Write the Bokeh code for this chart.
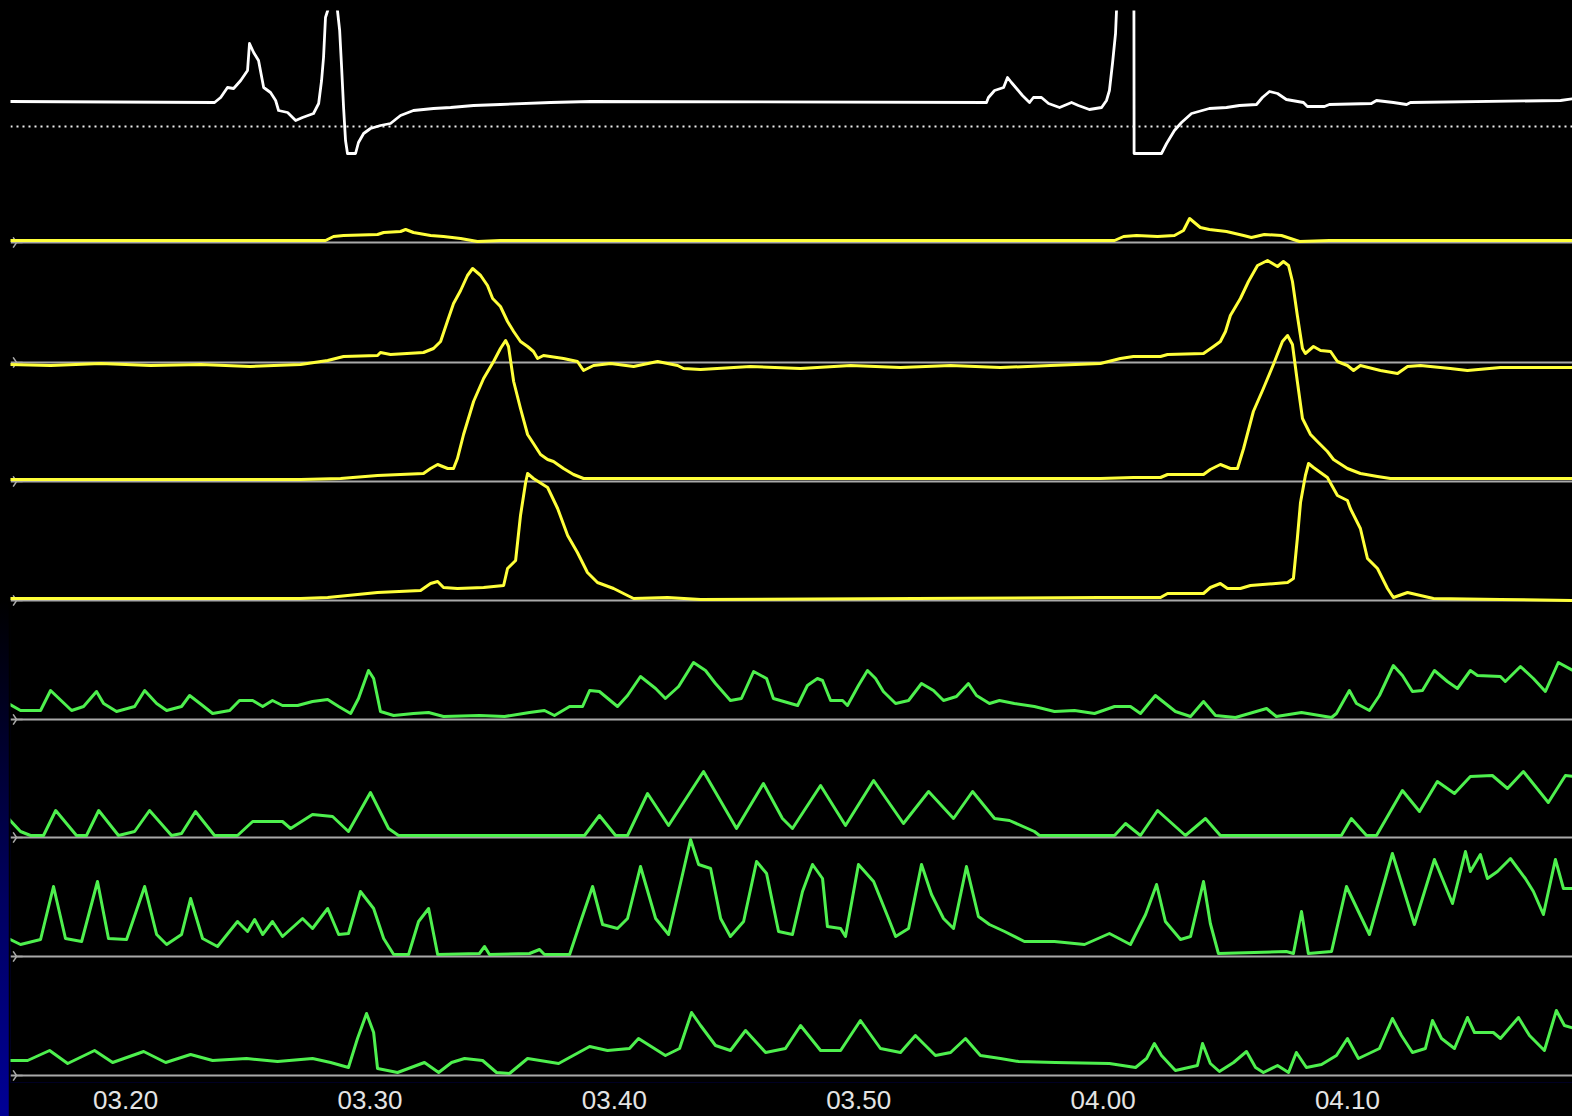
import math
from bokeh.plotting import figure
from bokeh.models import Range1d, FixedTicker, ColumnDataSource
from bokeh.embed import file_html
from bokeh.resources import INLINE

# ---------------- data ----------------
# time: minutes after 03:00 ; values: pressure above each channel's zero line
TICK_MINUTES = [20, 30, 40, 50, 60, 70]
TICK_LABELS = ["03.20", "03.30", "03.40", "03.50", "04.00", "04.10"]

WHITE_T = [15.2, 23.64, 23.89, 24.17, 24.42, 24.71, 24.99, 25.07, 25.24, 25.44, 25.65, 25.93, 26.14, 26.26, 26.63,
           26.96, 27.24, 27.69, 27.90, 28.02, 28.10, 28.18, 28.27, 28.47, 28.67, 28.76, 28.84, 28.92, 29.00, 29.08,
           29.41, 29.53, 29.74, 30.02, 30.43, 30.84, 31.25, 31.78, 32.60, 33.30, 34.24, 35.34, 37.39, 39.03, 55.23,
           55.31, 55.56, 55.93, 56.09, 56.25, 56.46, 56.70, 56.99, 57.15, 57.48, 57.77, 58.22, 58.71, 58.99, 59.44,
           59.94, 60.14, 60.26, 60.39, 60.51, 60.55, 60.92, 61.26, 61.27, 62.39, 62.60, 62.92, 63.21, 63.62, 64.35,
           65.05, 65.58, 66.28, 66.52, 66.81, 67.14, 67.50, 68.20, 68.36, 69.06, 69.26, 70.98, 71.19, 71.88, 72.42,
           72.58, 78.72, 79.3]
WHITE_V = [25, 24, 29, 39, 38, 46, 56, 83, 74, 66, 39, 34, 26, 16, 14,
           6, 9, 13, 23, 46, 69, 109, 116, 170, 116, 96, 59, 19, -14, -27,
           -27, -16, -7, -2, 1, 3, 11, 16, 18, 19, 21, 22, 24, 25, 24,
           29, 36, 39, 49, 44, 38, 31, 24, 29, 29, 23, 19, 24, 21, 17,
           19, 26, 36, 64, 93, 116, 170, 170, -27, -27, -17, -4, 4, 13, 18,
           19, 21, 22, 29, 35, 33, 27, 24, 20, 20, 22, 23, 26, 24, 22,
           24, 26, 28]

Y1_T = [15.2, 28.18, 28.51, 28.92, 30.31, 30.56, 31.25, 31.46, 31.78, 32.48, 33.01, 33.71, 34.40, 35.34, 60.47,
        60.84, 61.37, 62.23, 62.92, 63.29, 63.54, 63.98, 64.35, 65.05, 65.75, 66.07, 66.60, 67.30, 68.04, 69.26, 79.3]
Y1_V = [2, 2, 6, 7, 8, 10, 11, 13, 10, 7, 6, 4, 1, 2, 2,
        6, 7, 6, 7, 12, 24, 15, 13, 11, 7, 5, 8, 7, 1, 2, 2]

Y2_T = [15.2, 16.93, 18.98, 21.02, 23.07, 25.11, 27.16, 28.27, 28.92, 30.31, 30.43, 30.84, 32.19, 32.60, 32.89,
        33.18, 33.42, 33.71, 33.99, 34.20, 34.53, 34.81, 35.02, 35.34, 35.63, 35.88, 36.16, 36.45, 36.69, 36.86,
        37.10, 37.92, 38.49, 38.74, 39.15, 39.85, 40.79, 41.77, 42.59, 42.83, 43.53, 45.57, 47.62, 49.67, 51.71,
        53.76, 55.80, 57.85, 59.89, 60.71, 61.24, 62.35, 62.64, 64.11, 64.52, 64.80, 65.01, 65.21, 65.62, 65.95,
        66.32, 66.73, 67.14, 67.38, 67.59, 67.75, 67.95, 68.16, 68.28, 68.61, 68.90, 69.31, 69.59, 70.00, 70.25,
        70.53, 71.35, 72.05, 72.46, 72.99, 74.21, 74.91, 76.26, 79.3]
Y2_V = [-2, -3, -1, -3, -2, -4, -2, 2, 6, 7, 10, 8, 10, 14, 21,
        42, 59, 72, 87, 94, 87, 77, 64, 56, 41, 31, 21, 16, 11, 4,
        7, 4, 1, -8, -3, -1, -4, 1, -3, -6, -7, -4, -6, -3, -5,
        -3, -5, -3, -1, 4, 6, 6, 8, 9, 16, 21, 31, 47, 64, 81,
        97, 102, 96, 101, 97, 81, 47, 14, 9, 16, 12, 11, 1, -3, -8,
        -3, -8, -11, -4, -3, -6, -8, -5, -5]

Y3_T = [15.2, 27.16, 28.80, 30.31, 32.19, 32.48, 32.77, 33.18, 33.42, 33.58, 33.83, 34.24, 34.65, 35.06, 35.34,
        35.55, 35.67, 35.88, 36.16, 36.45, 36.69, 36.98, 37.27, 37.51, 37.92, 38.33, 38.74, 39.44, 59.89, 61.24,
        62.35, 62.64, 64.11, 64.39, 64.80, 65.21, 65.50, 65.75, 66.15, 66.56, 66.97, 67.34, 67.55, 67.75, 67.95,
        68.16, 68.49, 68.77, 69.18, 69.43, 70.00, 70.53, 71.23, 71.76, 79.3]
Y3_V = [2, 2, 3, 6, 8, 13, 17, 13, 13, 23, 47, 80, 103, 120, 133,
        141, 135, 100, 73, 47, 38, 27, 22, 20, 13, 7, 3, 3, 3, 4,
        4, 7, 7, 12, 17, 13, 13, 33, 70, 93, 117, 140, 146, 137, 100,
        63, 47, 40, 30, 22, 13, 8, 5, 3, 3]

Y4_T = [15.2, 27.16, 28.27, 30.31, 32.07, 32.48, 32.77, 33.01, 33.58, 34.65, 35.47, 35.63, 35.96, 36.16, 36.37,
        36.45, 36.69, 37.27, 37.68, 38.09, 38.49, 38.90, 39.31, 39.97, 40.54, 40.79, 42.18, 43.53, 59.89, 62.35,
        62.64, 64.11, 64.39, 64.80, 65.09, 65.62, 66.03, 67.55, 67.79, 67.95, 68.08, 68.28, 68.41, 68.61, 69.18,
        69.59, 70.00, 70.12, 70.53, 70.82, 71.23, 71.64, 71.88, 72.46, 72.99, 73.52, 76.26, 79.3]
Y4_V = [2, 2, 3, 8, 10, 17, 19, 13, 12, 13, 15, 32, 40, 85, 118,
        127, 122, 113, 92, 65, 48, 28, 18, 12, 5, 2, 3, 1, 3, 3,
        7, 7, 13, 17, 12, 12, 15, 18, 22, 62, 98, 125, 137, 133, 123,
        105, 100, 92, 72, 42, 32, 12, 3, 8, 5, 2, 1, 0]

G1_T = [15.2, 15.70, 16.52, 16.93, 17.79, 18.28, 18.81, 19.10, 19.63, 20.37,
        20.78, 21.27, 21.68, 22.29, 22.62, 23.15, 23.56, 24.26, 24.66, 25.20,
        25.61, 26.01, 26.42, 27.04, 27.65, 28.27, 28.72, 29.21, 29.53, 29.94,
        30.15, 30.43, 30.97, 31.78, 32.40, 33.01, 34.48, 35.51, 36.53, 37.14,
        37.55, 38.17, 38.70, 38.99, 39.39, 40.13, 40.54, 41.07, 41.69, 42.09,
        42.63, 43.24, 43.73, 44.14, 44.75, 45.20, 45.70, 46.23, 46.51, 47.50,
        47.90, 48.31, 48.52, 48.85, 49.34, 49.54, 49.99, 50.36, 50.69, 51.01,
        51.51, 52.04, 52.57, 53.06, 53.47, 54.00, 54.49, 54.82, 55.35, 55.76,
        56.37, 57.19, 58.01, 58.83, 59.65, 60.47, 61.12, 61.53, 62.14, 62.96,
        63.58, 64.11, 64.60, 65.42, 66.69, 67.09, 68.12, 69.35, 69.55, 70.08,
        70.37, 70.90, 71.31, 71.88, 72.25, 72.66, 73.07, 73.56, 74.09, 74.50,
        75.03, 75.32, 76.26, 76.46, 77.08, 77.61, 78.10, 78.63, 79.3]
G1_V = [16, 9, 9, 29, 9, 13, 28, 16, 8, 13,
        29, 16, 9, 13, 24, 14, 6, 9, 19, 19,
        13, 19, 14, 14, 18, 20, 13, 6, 21, 49,
        41, 8, 4, 6, 7, 3, 4, 3, 7, 9,
        4, 13, 13, 29, 28, 13, 24, 43, 31, 21,
        33, 57, 49, 36, 19, 21, 48, 41, 21, 14,
        34, 41, 39, 19, 19, 14, 34, 49, 41, 28,
        16, 19, 36, 29, 19, 23, 36, 24, 16, 19,
        16, 13, 8, 9, 6, 13, 13, 6, 24, 8,
        3, 18, 4, 2, 11, 3, 7, 2, 6, 29,
        16, 9, 24, 54, 44, 28, 29, 49, 38, 31,
        49, 44, 43, 38, 53, 41, 28, 57, 48]

G2_T = [15.2, 15.70, 16.11, 16.64, 17.14, 17.99, 18.40, 18.90, 19.71, 20.37,
        20.98, 21.88, 22.29, 22.86, 23.64, 24.58, 25.20, 26.42, 26.75, 27.65,
        28.47, 29.12, 30.02, 30.76, 31.17, 35.51, 38.78, 39.39, 40.05, 40.54,
        41.36, 42.22, 43.65, 45.00, 46.10, 46.88, 47.29, 48.44, 49.46, 50.61,
        51.83, 52.86, 53.88, 54.66, 55.56, 56.17, 57.19, 57.40, 60.47, 60.92,
        61.53, 62.23, 63.37, 64.19, 64.80, 69.75, 70.16, 70.78, 71.19, 72.25,
        72.95, 73.68, 74.38, 75.03, 75.93, 76.55, 77.20, 78.22, 78.92, 79.3]
G2_V = [19, 6, 2, 2, 27, 2, 2, 27, 2, 6,
        27, 2, 4, 26, 2, 2, 16, 16, 9, 23,
        21, 6, 45, 9, 2, 2, 2, 22, 2, 2,
        44, 12, 66, 9, 54, 19, 9, 52, 12, 57,
        14, 46, 19, 46, 19, 17, 6, 2, 2, 14,
        2, 27, 2, 19, 2, 2, 19, 2, 2, 47,
        26, 56, 44, 61, 62, 49, 66, 35, 62, 61]

G3_T = [15.2, 15.70, 16.52, 17.05, 17.54, 18.20, 18.85, 19.30, 20.04, 20.78,
        21.27, 21.68, 22.29, 22.66, 23.15, 23.76, 24.58, 24.99, 25.28, 25.61,
        26.01, 26.42, 27.24, 27.65, 28.27, 28.72, 29.12, 29.61, 30.15, 30.56,
        30.97, 31.58, 31.99, 32.40, 32.77, 34.48, 34.69, 34.89, 36.53, 36.94,
        37.14, 38.17, 38.58, 39.11, 39.52, 40.13, 40.54, 41.07, 41.69, 42.22,
        42.63, 43.12, 43.45, 43.94, 44.35, 44.75, 45.29, 45.82, 46.23, 46.72,
        47.29, 47.70, 48.11, 48.52, 48.72, 49.26, 49.46, 49.99, 50.61, 51.22,
        51.51, 52.04, 52.57, 52.98, 53.47, 53.88, 54.41, 54.90, 55.35, 55.97,
        56.78, 58.01, 59.24, 60.26, 61.12, 61.74, 62.19, 62.55, 63.17, 63.58,
        64.11, 64.39, 64.72, 67.50, 67.79, 68.12, 68.40, 69.35, 69.96, 70.90,
        71.84, 72.74, 73.56, 74.30, 74.83, 75.03, 75.44, 75.73, 76.14, 76.67,
        77.28, 77.61, 78.02, 78.51, 78.84, 79.3]
G3_V = [18, 12, 17, 70, 18, 15, 75, 18, 17, 70,
        22, 12, 22, 58, 18, 10, 35, 25, 37, 22,
        35, 20, 38, 28, 48, 22, 23, 65, 48, 18,
        2, 2, 35, 48, 2, 3, 10, 2, 3, 7,
        2, 2, 32, 70, 32, 28, 38, 90, 38, 22,
        65, 117, 92, 88, 38, 20, 35, 95, 83, 25,
        22, 65, 92, 78, 30, 28, 20, 92, 75, 38,
        20, 28, 92, 62, 38, 28, 90, 40, 32, 25,
        15, 15, 12, 23, 12, 42, 72, 35, 17, 20,
        75, 33, 3, 5, 3, 45, 3, 5, 70, 22,
        103, 32, 97, 53, 105, 85, 102, 78, 85, 98,
        78, 65, 42, 97, 68, 68]

G4_T = [15.2, 15.99, 16.89, 17.63, 18.73, 19.47, 20.74, 21.64, 22.66, 23.56,
        24.95, 26.22, 27.65, 28.39, 29.12, 29.49, 29.86, 30.15, 30.31, 31.13,
        32.23, 32.81, 33.34, 33.87, 34.61, 35.18, 35.71, 36.45, 37.72, 38.99,
        39.72, 40.62, 40.99, 42.09, 42.67, 43.16, 43.53, 44.14, 44.75, 45.37,
        46.19, 47.00, 47.62, 48.44, 49.26, 50.07, 50.89, 51.71, 52.32, 53.14,
        53.76, 54.37, 54.98, 55.80, 56.54, 58.05, 60.26, 61.33, 61.78, 62.10,
        62.39, 62.96, 63.86, 64.07, 64.39, 64.76, 65.34, 65.87, 66.24, 66.56,
        67.14, 67.59, 67.91, 68.32, 68.94, 69.55, 70.00, 70.45, 71.31, 71.84,
        72.21, 72.66, 73.19, 73.48, 73.85, 74.38, 74.91, 75.20, 75.97, 76.26,
        77.00, 77.45, 78.06, 78.55, 78.88, 79.3]
G4_V = [15, 15, 25, 12, 25, 13, 24, 13, 21, 15,
        17, 14, 17, 13, 8, 37, 62, 43, 7, 3,
        13, 3, 13, 17, 15, 3, 2, 17, 12, 29,
        25, 27, 37, 20, 27, 63, 50, 30, 25, 45,
        23, 27, 50, 25, 25, 55, 27, 23, 40, 20,
        23, 37, 20, 17, 14, 13, 12, 8, 17, 32,
        20, 5, 10, 32, 12, 4, 13, 24, 8, 3,
        10, 3, 23, 8, 11, 20, 37, 17, 27, 57,
        40, 23, 27, 55, 37, 27, 58, 43, 43, 37,
        58, 40, 25, 65, 50, 47]

# channel order top to bottom and the vertical position of each channel's zero line
CHANNEL_NAMES = ["ch0", "ch1", "ch2", "ch3", "ch4", "ch5", "ch6", "ch7", "ch8"]
CHANNEL_T = [WHITE_T, Y1_T, Y2_T, Y3_T, Y4_T, G1_T, G2_T, G3_T, G4_T]
CHANNEL_V = [WHITE_V, Y1_V, Y2_V, Y3_V, Y4_V, G1_V, G2_V, G3_V, G4_V]
BASELINES = [949, 833, 713, 594, 475, 356, 238, 119, 0]
COLORS = ["#ffffff", "#ffff3a", "#ffff3a", "#ffff3a", "#ffff3a",
          "#4ef04e", "#4ef04e", "#4ef04e", "#4ef04e"]
WIDTHS = [2.8, 3.0, 3.0, 3.0, 3.0, 3.0, 3.0, 3.0, 3.0]

X_START, X_END = 15.29, 79.21

# ---------------- figure ----------------
p = figure(width=1564, height=1108, output_backend="svg", toolbar_location=None,
           x_range=Range1d(X_START, X_END), y_range=Range1d(-7, 1065),
           y_axis_location=None,
           min_border_left=2, min_border_right=0, min_border_top=2, min_border_bottom=34)
p.background_fill_color = "#000000"
p.border_fill_color = "#000000"
p.outline_line_color = None
p.grid.visible = False

ax = p.xaxis[0]
ax.ticker = FixedTicker(ticks=TICK_MINUTES)
ax.major_label_overrides = {t: lab for t, lab in zip(TICK_MINUTES, TICK_LABELS)}
ax.axis_line_color = None
ax.major_tick_line_color = None
ax.minor_tick_line_color = None
ax.major_label_text_color = "#e4e4e4"
ax.major_label_text_font = "Liberation Sans"
ax.major_label_text_font_size = "26px"
ax.major_label_standoff = 2

# zero lines
zero = BASELINES[1:]
p.segment(x0=[X_START] * len(zero), x1=[X_END] * len(zero), y0=zero, y1=zero,
          line_color="#a9a9a9", line_width=2)
p.segment(x0=[X_START], x1=[X_END], y0=[BASELINES[0]], y1=[BASELINES[0]],
          line_color="#eeeeee", line_width=2, line_dash="2 4")
p.scatter(x=[X_START + 0.25] * len(zero), y=zero, marker="y", size=12, angle=math.pi / 2,
          line_color="#a9a9a9", line_width=1.5, fill_color=None)

for name, ts, vs, base, col, lw in zip(CHANNEL_NAMES, CHANNEL_T, CHANNEL_V, BASELINES, COLORS, WIDTHS):
    src = ColumnDataSource(dict(t=ts, y=[base + v for v in vs]))
    p.line("t", "y", source=src, line_color=col, line_width=lw, line_join="round", name=name)

html = file_html(p, INLINE, title="manometry")
style = ("<style>html{background:#000 linear-gradient(to bottom,#000 0px,#000 600px,#00001e 700px,"
         "#000060 900px,#000095 1116px) no-repeat;overflow:hidden}"
         "body{margin:8px 0 0 8px;background:transparent;overflow:hidden}</style></head>")
html = html.replace("</head>", style, 1)
open("out.html", "w").write(html)
